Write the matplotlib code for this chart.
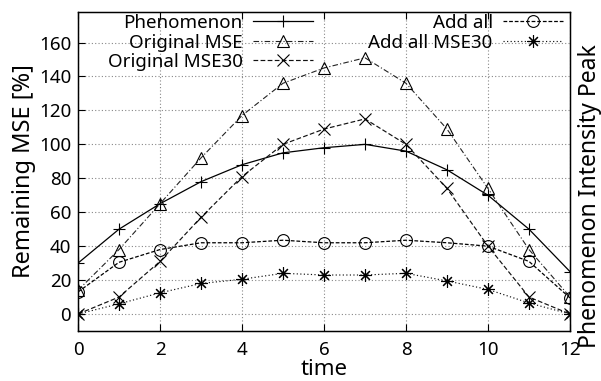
import matplotlib
matplotlib.use("Agg")
import matplotlib.pyplot as plt

plt.rcParams['font.family'] = ['Noto Sans', 'DejaVu Sans']

time = list(range(13))
phenomenon = [30, 50, 65, 78, 88, 95, 98, 100, 96, 85, 70, 50, 25]
original_mse = [14, 38, 65, 92, 117, 136, 145, 151, 136, 109, 74, 38, 10]
original_mse30 = [0, 10, 31, 57, 81, 100, 109, 115, 100, 74, 40, 10, 0]
add_all = [13, 30.5, 38, 42, 42, 43.5, 42, 42, 43.5, 42, 40, 31, 9.5]
add_all_mse30 = [0, 6, 12.5, 18, 20.5, 24, 23, 23, 24, 19.5, 14.5, 6.5, 0]

xticks = [0, 2, 4, 6, 8, 10, 12]
yticks = [0, 20, 40, 60, 80, 100, 120, 140, 160]

fig = plt.figure(figsize=(6.01, 3.81), dpi=100)
ax = fig.add_axes([78/601, 50/381, 492/601, 319/381])

mew = 0.8
lw = 0.9
l1, = ax.plot(time, phenomenon, color='black', lw=lw, ls='-', marker='+',
              ms=9, mew=mew, label='Phenomenon')
l2, = ax.plot(time, original_mse, color='#222222', lw=0.8, ls=(0, (5, 2, 1, 2)), marker='^',
              ms=9, mew=mew, mfc='none', mec='black', label='Original MSE')
l3, = ax.plot(time, original_mse30, color='#111111', lw=0.85, ls=(0, (4, 2)), marker='x',
              ms=9, mew=mew, mec='black', label='Original MSE30')
l4, = ax.plot(time, add_all, color='black', lw=lw, ls=(0, (3, 1.5)), marker='o',
              ms=8.5, mew=mew, mfc='none', label='Add all')
l5, = ax.plot(time, add_all_mse30, color='#111111', lw=0.85, ls=(0, (1, 2)), marker=(8, 2, 0),
              ms=9, mew=mew, mec='black', label='Add all MSE30')

ax.set_xlim(0, 12)
ax.set_ylim(-10, 178)
ax.set_xticks(xticks)
ax.set_yticks(yticks)
ax.tick_params(direction='in', top=True, right=True, length=5, labelsize=13.5)
ax.tick_params(axis='x', pad=7)
ax.tick_params(axis='y', pad=5)
ax.grid(True, color='#888888', ls=(0, (1, 2)), lw=0.8)
for s in ax.spines.values():
    s.set_linewidth(1.0)

ax.set_xlabel('time', fontsize=16, labelpad=0)
ax.set_ylabel('Remaining MSE [%]', fontsize=17, labelpad=2)

ax2 = ax.twinx()
ax2.set_ylim(-10, 178)
ax2.set_yticks([])
ax2.set_ylabel('Phenomenon Intensity Peak', fontsize=16.5)
ax2.yaxis.set_label_coords((578 - 78) / 492, (331 - 196) / 319)

common = dict(markerfirst=False, frameon=False, fontsize=13.5, handlelength=3.2,
              labelspacing=0.08, handletextpad=0.55, borderaxespad=0, borderpad=0)
top = (331 - 14) / 319
leg1 = ax.legend(handles=[l1, l2, l3], loc='upper right',
                 bbox_to_anchor=((313 - 78) / 492, top), **common)
ax.add_artist(leg1)
leg2 = ax.legend(handles=[l4, l5], loc='upper right',
                 bbox_to_anchor=((563 - 78) / 492, top), **common)

fig.savefig('out.png', dpi=100)
